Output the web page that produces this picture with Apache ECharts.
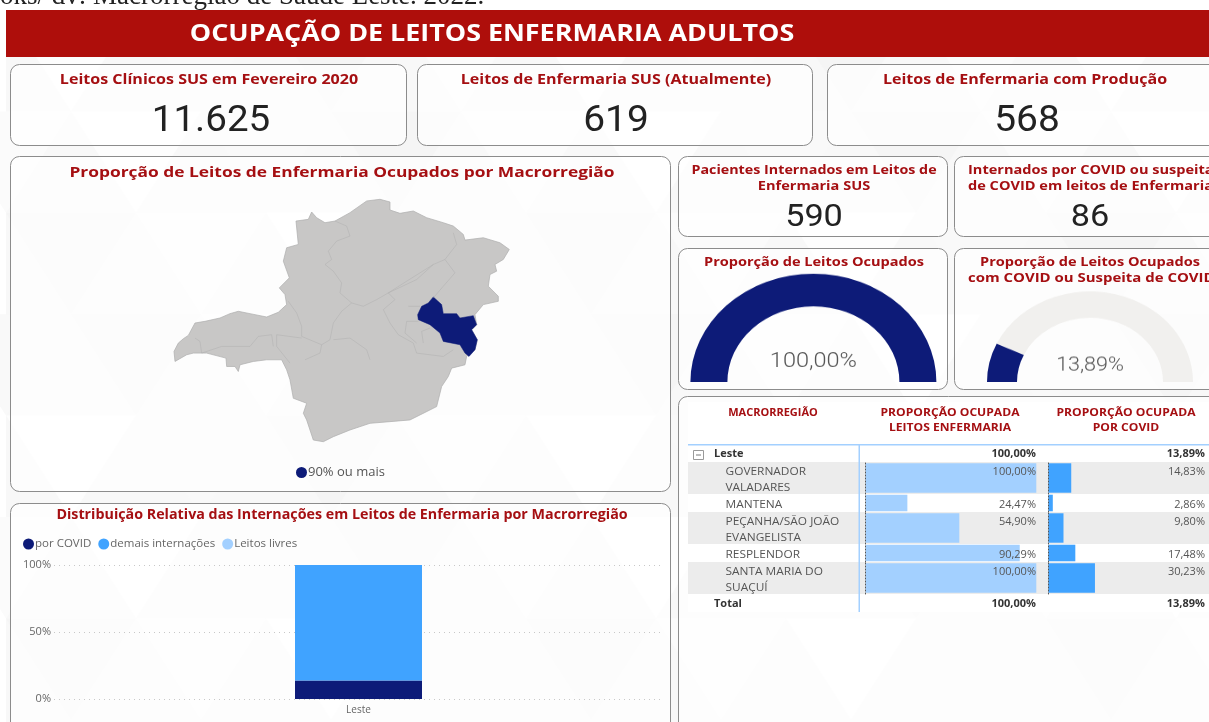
<!DOCTYPE html>
<html lang="pt-BR"><head><meta charset="utf-8">
<style>html,body{margin:0;padding:0;background:#fff;overflow:hidden}
#main{position:absolute;left:0;top:0;width:1209px;height:722px}
#gauges{position:absolute;left:0;top:252px;width:1209px;height:130px;transform:scaleY(.88);transform-origin:50% 100%}
</style>
<script src="https://cdn.jsdelivr.net/npm/echarts@6/dist/echarts.min.js"></script>
</head><body><div id="main"></div><div id="gauges"></div>
<script>
// ---------- data ----------
const kpiLeitosFev2020 = '11.625', kpiLeitosAtual = '619', kpiLeitosProducao = '568';
const kpiInternados = '590', kpiInternadosCovid = '86';
const gaugeOcupados = 100.00, gaugeCovid = 13.89;
const barCategories = ['Leste'];
const barPorCovid = [13.89], barDemais = [86.11], barLivres = [0];
const yTicks = [0, 50, 100];
const macroRows = ['GOVERNADOR\nVALADARES', 'MANTENA', 'PEÇANHA/SÃO JOÃO\nEVANGELISTA', 'RESPLENDOR', 'SANTA MARIA DO\nSUAÇUÍ'];
const propEnfermaria = [100.00, 24.47, 54.90, 90.29, 100.00];
const propCovid = [14.83, 2.86, 9.80, 17.48, 30.23];
const totalEnfermaria = 100.00, totalCovid = 13.89;
// map geometry (traced outline, arbitrary planar units)
const mgOutline = [[72,485],[85,460],[100,447],[115,437],[135,400],[165,395],[210,385],[240,372],[265,365],[300,372],[350,382],[385,368],[410,345],[405,315],[388,295],[418,265],[400,215],[410,175],[445,165],[438,95],[475,90],[485,68],[500,85],[525,100],[555,95],[600,70],[650,35],[690,30],[720,38],[720,62],[750,72],[790,65],[830,85],[880,100],[910,110],[940,135],[945,152],[1000,145],[1050,160],[1078,180],[1060,210],[1035,225],[1040,245],[1020,255],[1015,290],[1045,320],[1045,335],[1000,345],[975,375],[980,405],[965,420],[982,450],[975,480],[950,500],[945,525],[905,535],[895,560],[875,590],[860,650],[810,675],[780,690],[720,695],[660,700],[600,720],[550,740],[520,755],[490,750],[470,690],[460,670],[470,640],[430,625],[420,570],[410,540],[395,510],[350,510],[310,515],[270,525],[265,545],[255,530],[230,530],[228,505],[170,490],[130,490],[110,495],[75,515]];
const lesteOutline = [[850,322],[875,345],[880,372],[920,372],[930,385],[970,378],[980,405],[965,420],[982,450],[975,480],[957,500],[945,490],[930,465],[880,455],[870,430],[840,405],[805,390],[803,375],[815,350],[835,340]];
const innerBorders = [
 [[555,95],[590,110],[600,140],[560,155],[535,185],[545,210],[525,225],[550,245],[575,280],[570,310],[605,340],[575,365],[550,400],[540,450],[515,465],[510,490],[465,510]],
 [[415,335],[440,370],[455,410],[455,440],[515,465]],
 [[135,445],[150,455],[155,490],[215,470],[300,470],[325,440],[365,435],[370,470]],
 [[380,435],[455,445]],[[380,435],[380,470],[420,520]],
 [[605,340],[640,350],[680,330],[715,310],[770,275],[850,225],[885,210],[920,165],[910,130]],
 [[885,210],[915,250],[880,290],[850,325]],
 [[850,225],[800,270],[715,310],[735,330],[700,360],[720,400],[745,435],[790,460],[800,490],[880,500],[910,480]],
 [[775,350],[810,350]],[[805,395],[770,395],[765,430],[800,460]],[[840,415],[815,425],[820,460]],
 [[550,450],[600,445],[650,480],[660,510]]
];
// ---------- style ----------
const NAVY='#0D1B78', BLUE='#40A3FF', LIGHT='#A3D0FF', RED='#A50F12', HEAD='#AE0E0B', BAND='#ECECEC';
const TXT='"Open Sans","Noto Sans",sans-serif', NUM='Roboto,"Open Sans",sans-serif';
const pct = v => v.toFixed(2).replace('.',',')+'%';
const g = [];
const rect=(x,y,w,h,style,r,z)=>g.push({type:'rect',z:z,silent:true,shape:{x,y,width:w,height:h,r:r||0},style});
const text=(x,y,t,font,fill,align,sx)=>g.push({type:'text',z:8,silent:true,x,y:y+2,scaleX:sx||1,style:{text:t,font,fill,align:align||'center',verticalAlign:'middle'}});
// page background with faint triangles
g.push({type:'text',z:-11,silent:true,x:0,y:10.5,style:{text:'oks/ dv: Macrorregião de Saúde Leste. 2022.',font:'27px "Liberation Serif",serif',fill:'#222',align:'left',verticalAlign:'bottom'}});
rect(6,10,1203,712,{fill:'#f8f8f8'},0,-10);
const S=130;
for(let r=0;r<7;r++)for(let c=0;c<11;c++){
  const x=6+c*S-(r%2?S/2:0), y=10+r*S*.78, k=(r*5+c*3)%4;
  g.push({type:'polygon',z:-9,silent:true,shape:{points:[[x,Math.max(y,10)],[x+S,Math.max(y,10)],[x+S/2,y+S*.78]]},style:{fill:k==0?'#fdfdfd':k==1?'#fbfbfb':k==2?'#f5f5f5':'#f9f9f9'}});
}
// header
rect(6,10,1203,47,{fill:HEAD},0,-5);
text(492,32,'OCUPAÇÃO DE LEITOS ENFERMARIA ADULTOS','bold 24px '+TXT,'#fff','center',1.12);
// panels
const panel=(x,y,w,h)=>rect(x,y,w,h,{fill:'rgba(255,255,255,.7)',stroke:'#8c8c8c',lineWidth:1},9,-4);
const T14='bold 14px '+TXT, T13='bold 13px '+TXT, N36='36px '+NUM, SX=1.12;
panel(10.5,64.5,396,81); panel(417.5,64.5,395,81); panel(827.5,64.5,395,81);
text(209,78.5,'Leitos Clínicos SUS em Fevereiro 2020',T14,RED,'center',1.146); text(211,120,kpiLeitosFev2020,N36,'#222','center',1.07);
text(616,78.5,'Leitos de Enfermaria SUS (Atualmente)',T14,RED,'center',1.146); text(616,120,kpiLeitosAtual,N36,'#222','center',1.08);
text(1025,78.5,'Leitos de Enfermaria com Produção',T14,RED,'center',1.146); text(1027,120,kpiLeitosProducao,N36,'#222','center',1.08);
panel(10.5,156.5,660,335); text(342,171,'Proporção de Leitos de Enfermaria Ocupados por Macrorregião','bold 15px '+TXT,RED,'center',1.157);
panel(10.5,503.5,660,240); text(342,513.5,'Distribuição Relativa das Internações em Leitos de Enfermaria por Macrorregião','bold 14px '+TXT,RED,'center',1.02);
panel(678.5,156.5,269,80); text(814,168.5,'Pacientes Internados em Leitos de',T13,RED,'center',1.1); text(814,184.5,'Enfermaria SUS',T13,RED,'center',SX); text(814,216,kpiInternados,'32px '+NUM,'#222','center',1.07);
panel(954.5,156.5,270,80); text(968,168.5,'Internados por COVID ou suspeita',T13,RED,'left',1.12); text(968,184.5,'de COVID em leitos de Enfermaria',T13,RED,'left',1.12); text(1090,216,kpiInternadosCovid,'32px '+NUM,'#222','center',1.07);
panel(678.5,248.5,269,141); text(814,260,'Proporção de Leitos Ocupados',T13,RED,'center',SX);
panel(954.5,248.5,270,141); text(1090,260,'Proporção de Leitos Ocupados',T13,RED,'center',SX); text(968,276,'com COVID ou Suspeita de COVID',T13,RED,'left',1.15);
panel(678.5,396.5,540,340);
// table
const TH='bold 11px '+TXT, TR='11px '+TXT, TB='bold 11px '+TXT;
rect(688,402,521,210,{fill:'#fff'},0,-3);
text(773,411,'MACRORREGIÃO',TH,RED);
text(950,411,'PROPORÇÃO OCUPADA',TH,RED,'center',1.1); text(950,426,'LEITOS ENFERMARIA',TH,RED,'center',1.1);
text(1126,411,'PROPORÇÃO OCUPADA',TH,RED,'center',1.1); text(1126,426,'POR COVID',TH,RED,'center',1.1);
rect(688,444,521,1.5,{fill:LIGHT},0,-1); rect(858.5,444,1.5,168,{fill:LIGHT},0,-1);
rect(693.5,450.5,10,9,{fill:'#fff',stroke:'#999',lineWidth:1},0,0); rect(696,454.5,5,1,{fill:'#777'},0,1);
text(714,452,'Leste',TB,'#333','left'); text(1036,452,pct(gaugeOcupados),TB,'#333','right'); text(1205,452,pct(gaugeCovid),TB,'#333','right');
text(714,602,'Total',TB,'#333','left'); text(1036,602,pct(totalEnfermaria),TB,'#333','right'); text(1205,602,pct(totalCovid),TB,'#333','right');
const rowTops=[462,494,512,544,562], rowHeights=[32,18,32,18,32];
const grids=[{left:54,width:609,top:565,height:134}], xAxes=[{type:'category',gridIndex:0,data:barCategories,axisTick:{show:false},axisLine:{show:false},axisLabel:{color:'#666',fontSize:10,fontFamily:TXT,margin:6}}],
 yAxes=[{type:'value',gridIndex:0,min:0,max:100,interval:50,axisLabel:{formatter:v=>yTicks.includes(v)?v+'%':'',color:'#666',fontSize:11,fontFamily:TXT,margin:3},splitLine:{lineStyle:{type:[1,4],color:'#c8c8c8'}},axisLine:{show:false},axisTick:{show:false}}];
const rowSeries=[];
const addCol=(vals,left,width,color)=>vals.forEach((v,i)=>{
  const ix=grids.length;
  grids.push({left,width,top:rowTops[i],height:rowHeights[i]});
  xAxes.push({type:'value',gridIndex:ix,min:0,max:100,show:false});
  yAxes.push({type:'category',gridIndex:ix,z:4,data:[macroRows[i]],axisTick:{show:false},axisLabel:{show:false},axisLine:{lineStyle:{color:'#555',type:[1,2],width:1}}});
  rowSeries.push({type:'bar',name:'r'+ix,xAxisIndex:ix,yAxisIndex:ix,data:[v],barWidth:'92%',itemStyle:{color},silent:true,z:3});
});
addCol(propEnfermaria,865.6,170.7,LIGHT);
addCol(propCovid,1048.4,154,BLUE);
macroRows.forEach((name,i)=>{
  if(i%2==0) rect(688,rowTops[i],521,rowHeights[i],{fill:BAND},0,-2);
  const lines=name.split('\n');
  lines.forEach((l,j)=>text(725.5,rowTops[i]+(lines.length>1?7.5+j*16:8.5),l,TR,'#555','left',1.08));
  const yv=rowTops[i]+(lines.length>1?7.5:8.5);
  text(1036,yv,pct(propEnfermaria[i]),TR,'#555','right');
  text(1205,yv,pct(propCovid[i]),TR,'#555','right');
});
// map
const flip=a=>a.map(p=>[p[0],-p[1]]);
const closed=a=>flip(a.concat([a[0]]));
echarts.registerMap('mg',{type:'FeatureCollection',features:[
 {type:'Feature',properties:{name:'Minas Gerais'},geometry:{type:'Polygon',coordinates:[closed(mgOutline)]}},
 {type:'Feature',properties:{name:'Leste'},geometry:{type:'Polygon',coordinates:[closed(lesteOutline)]}}
]});
const chart=echarts.init(document.getElementById('main'),null,{renderer:'canvas'});
chart.setOption({animation:false,graphic:{elements:g},grid:grids,xAxis:xAxes,yAxis:yAxes,
 legend:[
  {data:['por COVID','demais internações','Leitos livres'],left:18,top:533,icon:'circle',itemWidth:11,itemHeight:11,itemGap:7,textStyle:{color:'#666',fontSize:11.5,fontFamily:TXT,padding:[0,0,0,-4]},selectedMode:false},
  {data:[{name:'90% ou mais',itemStyle:{color:NAVY,borderWidth:0}}],left:291,top:461,icon:'circle',itemWidth:11,itemHeight:11,textStyle:{color:'#555',fontSize:13,fontFamily:TXT,padding:[0,0,0,-4]},selectedMode:false}
 ],
 geo:{map:'mg',roam:false,silent:true,aspectScale:1,left:174,top:199.3,width:335.3,height:242.4,label:{show:false},
  itemStyle:{areaColor:'#C8C7C6',borderColor:'#adadad',borderWidth:.7},
  regions:[{name:'Leste',itemStyle:{areaColor:NAVY,borderColor:NAVY,borderWidth:.5}}]},
 series:[
  {type:'lines',coordinateSystem:'geo',polyline:true,silent:true,z:1,data:innerBorders.map(b=>({coords:flip(b)})),lineStyle:{color:'#aaaaaa',width:.7,opacity:.6},effect:{show:false}},
  {type:'map',name:'90% ou mais',geoIndex:0,z:2,data:[{name:'Leste',value:100}],itemStyle:{areaColor:NAVY,color:NAVY},silent:true},
  {type:'bar',name:'por COVID',stack:'t',data:barPorCovid,barWidth:127,itemStyle:{color:NAVY},silent:true},
  {type:'bar',name:'demais internações',stack:'t',data:barDemais,barWidth:127,itemStyle:{color:BLUE},silent:true},
  {type:'bar',name:'Leitos livres',stack:'t',data:barLivres,barWidth:127,itemStyle:{color:LIGHT},silent:true},
  ...rowSeries
 ]});
// gauges (flattened by the container's scaleY, like the reference)
const gchart=echarts.init(document.getElementById('gauges'),null,{renderer:'canvas'});
const gaugeSeries=(v,cx,r,w,fs,off)=>({type:'gauge',center:[cx,130],radius:r,startAngle:180,endAngle:0,min:0,max:100,silent:true,
  axisLine:{lineStyle:{width:w,color:[[v/100,NAVY],[1,'#F1F0EE']]}},pointer:{show:false},axisTick:{show:false},splitLine:{show:false},axisLabel:{show:false},title:{show:false},anchor:{show:false},
  detail:{valueAnimation:false,offsetCenter:[0,off],formatter:x=>pct(x),color:'#555',fontSize:fs,fontWeight:300,fontFamily:NUM},data:[{value:v}]});
gchart.setOption({animation:false,series:[gaugeSeries(gaugeOcupados,813.4,123,37,23.5,-23),gaugeSeries(gaugeCovid,1090,103,30,21.5,-18)]});
</script></body></html>
